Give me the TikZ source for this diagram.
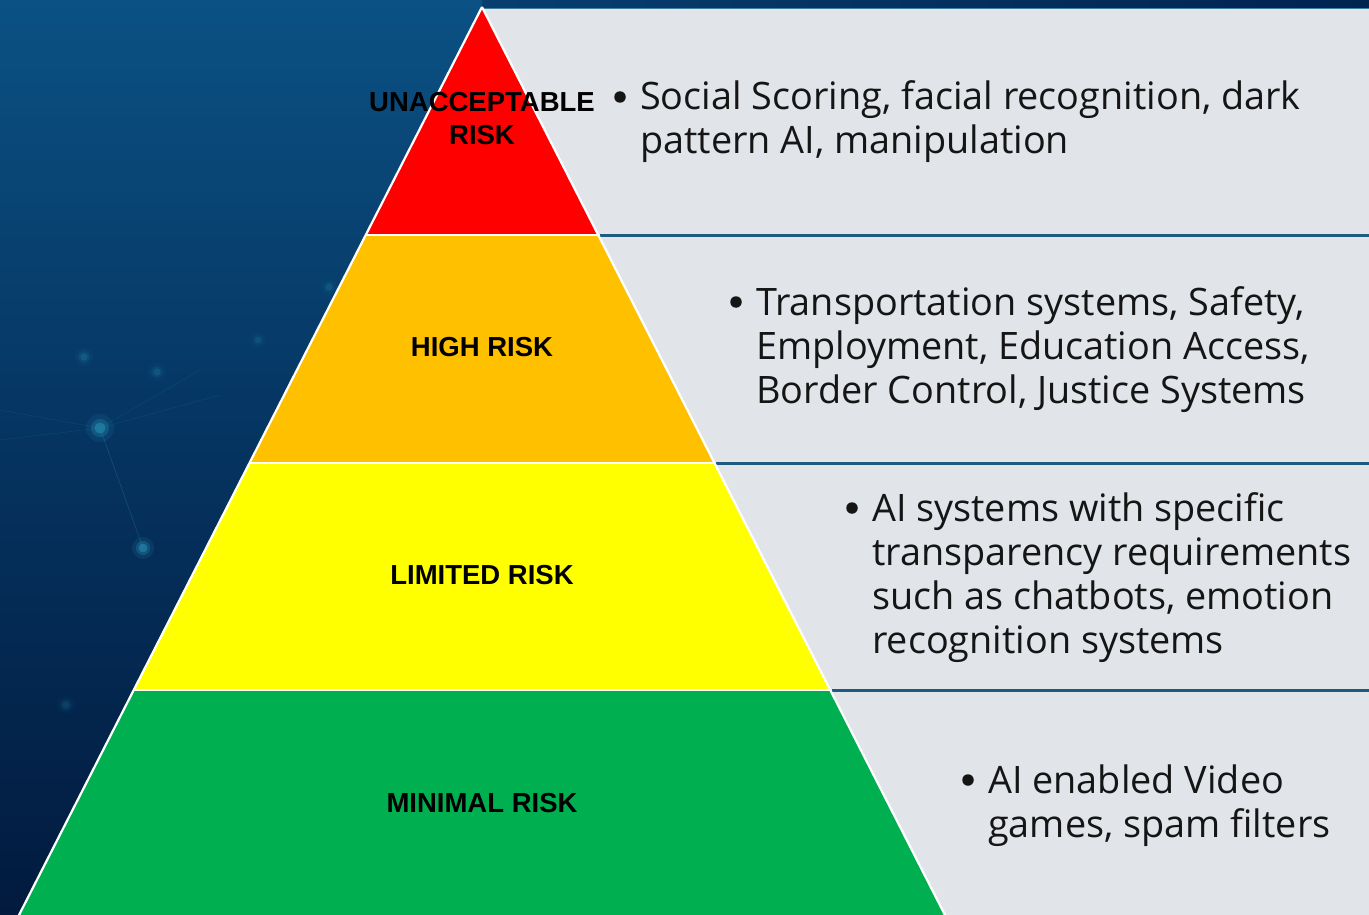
\documentclass[tikz,border=0pt]{standalone}
\usepackage{fontspec}
\setmainfont{Open Sans}
\newfontfamily\labelfont{Liberation Sans}[BoldFont={Liberation Sans Bold}]
\definecolor{bgtop}{HTML}{0B5184}
\definecolor{bgmid}{HTML}{05335F}
\definecolor{bgbot}{HTML}{021A3E}
\definecolor{navy}{HTML}{012350}
\definecolor{edge}{HTML}{3F7E9E}
\definecolor{panel}{HTML}{E1E5EA}
\definecolor{rule}{HTML}{1F5A80}
\definecolor{ink}{HTML}{151515}
\definecolor{tierred}{HTML}{FF0000}
\definecolor{tierorange}{HTML}{FFC000}
\definecolor{tieryellow}{HTML}{FFFF00}
\definecolor{tiergreen}{HTML}{00B050}
\definecolor{glow}{HTML}{2E9CC0}
\tikzset{
  tier/.style={draw=white, line width=2.2pt, line join=miter},
  tierlabel/.style={font=\labelfont\bfseries\fontsize{27.5}{33}\selectfont, align=center, inner sep=0pt, text=black},
  descline/.style={font=\fontsize{37.8}{44}\selectfont, anchor=base west, inner sep=0pt, text=ink},
  bulletdot/.style={circle, fill=ink, minimum size=11.5pt, inner sep=0pt},
  divider/.style={draw=rule, line width=3pt},
  sparkline/.style={draw=glow, line width=0.7pt, opacity=0.25}
}
% a soft glowing point: three stacked translucent discs
\newcommand\glowdot[3]{%
  \fill[glow, opacity=0.12*#3] #1 circle (#2);
  \fill[glow, opacity=0.25*#3] #1 circle (0.65*#2);
  \fill[glow, opacity=0.45*#3] #1 circle (0.4*#2);
}
\begin{document}
\begin{tikzpicture}[x=1pt,y=-1pt]
  \useasboundingbox (0,0) rectangle (1369,915);
  % dark blue backdrop
  \shade[top color=bgtop, bottom color=bgbot, middle color=bgmid] (0,0) rectangle (1369,915);
  \shade[left color=bgtop!60!navy, right color=navy] (482,0) rectangle (1369,9);
  % faint network sparks on the backdrop
  \draw[sparkline] (100,428) -- (143,548);
  \draw[sparkline, opacity=0.12] (100,428) -- (0,410);
  \draw[sparkline, opacity=0.12] (100,428) -- (200,370);
  \draw[sparkline, opacity=0.12] (100,428) -- (220,395);
  \draw[sparkline, opacity=0.12] (100,428) -- (0,440);
  \glowdot{(100,428)}{14}{1}
  \glowdot{(143,548)}{11}{1}
  \glowdot{(84,357)}{9}{0.45}
  \glowdot{(157,372)}{9}{0.4}
  \glowdot{(66,705)}{9}{0.3}
  \glowdot{(258,340)}{8}{0.3}
  \glowdot{(329,287)}{8}{0.35}
  % light panel behind the descriptions
  \fill[panel] (482,9) rectangle (1369,915);
  \draw[edge, line width=1pt] (482,9) -- (1369,9);
  % tier dividers on the panel
  \draw[divider] (600,235) -- (1369,235);
  \draw[divider] (716,463) -- (1369,463);
  \draw[divider] (832,690) -- (1369,690);
  % pyramid tiers
  \coordinate (apex) at (482,7);
  \coordinate (l1) at (365.5,235); \coordinate (r1) at (598.5,235);
  \coordinate (l2) at (249,463);   \coordinate (r2) at (715,463);
  \coordinate (l3) at (133,690);   \coordinate (r3) at (831,690);
  \coordinate (l4) at (18,917);    \coordinate (r4) at (946,917);
  \fill[tiergreen]  (l3) -- (r3) -- (r4) -- (l4) -- cycle;
  \fill[tieryellow] (l2) -- (r2) -- (r3) -- (l3) -- cycle;
  \fill[tierorange] (l1) -- (r1) -- (r2) -- (l2) -- cycle;
  \fill[tierred]    (apex) -- (r1) -- (l1) -- cycle;
  \draw[tier] (apex) -- (l4);
  \draw[tier] (apex) -- (r4);
  \draw[tier] (l1) -- (r1);
  \draw[tier] (l2) -- (r2);
  \draw[tier] (l3) -- (r3);
  % tier names
  \node[tierlabel] (t1) at (482,119) {UNACCEPTABLE\\RISK};
  \node[tierlabel] (t2) at (482,347) {HIGH RISK};
  \node[tierlabel] (t3) at (482,575) {LIMITED RISK};
  \node[tierlabel] (t4) at (482,803) {MINIMAL RISK};
  % descriptions
  \node[bulletdot] (b1) at (620,97) {};
  \node[descline] (d1a) at (640,110) {Social Scoring, facial recognition, dark};
  \node[descline] (d1b) at (640,154) {pattern AI, manipulation};
  \node[bulletdot] (b2) at (736,302) {};
  \node[descline] (d2a) at (756,315) {Transportation systems, Safety,};
  \node[descline] (d2b) at (756,359) {Employment, Education Access,};
  \node[descline] (d2c) at (756,403) {Border Control, Justice Systems};
  \node[bulletdot] (b3) at (852,508) {};
  \node[descline] (d3a) at (872,521) {AI systems with specific};
  \node[descline] (d3b) at (872,565) {transparency requirements};
  \node[descline] (d3c) at (872,609) {such as chatbots, emotion};
  \node[descline] (d3d) at (872,653) {recognition systems};
  \node[bulletdot] (b4) at (968,780) {};
  \node[descline] (d4a) at (988,793) {AI enabled Video};
  \node[descline] (d4b) at (988,837) {games, spam filters};
\end{tikzpicture}
\end{document}
